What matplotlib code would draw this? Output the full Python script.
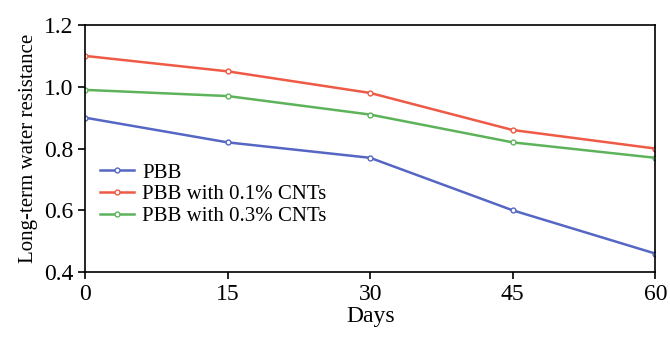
import matplotlib
matplotlib.use('Agg')
import matplotlib.pyplot as plt

plt.rcParams['font.family'] = ['Liberation Serif', 'DejaVu Serif']

days = [0, 15, 30, 45, 60]
pbb = [0.90, 0.82, 0.77, 0.60, 0.46]
pbb_01 = [1.10, 1.05, 0.98, 0.86, 0.80]
pbb_03 = [0.99, 0.97, 0.91, 0.82, 0.77]
labels = ['PBB', 'PBB with 0.1% CNTs', 'PBB with 0.3% CNTs']
colors = ['#5566c4', '#ee5a45', '#5db35a']

fig = plt.figure(figsize=(6.7, 3.38), dpi=100)
ax = fig.add_axes([0.127, 0.195, 0.851, 0.731])

for y, lab, c in zip([pbb, pbb_01, pbb_03], labels, colors):
    ax.plot(days, y, color=c, lw=1.8, marker='o', ms=3.5, mfc='white',
            mec=c, mew=1.0, label=lab)

ax.set_xlim(0, 60)
ax.set_ylim(0.4, 1.2)
ax.set_xticks(days)
ax.set_yticks([0.4, 0.6, 0.8, 1.0, 1.2])
ax.set_yticklabels(['0.4', '0.6', '0.8', '1.0', '1.2'])
ax.tick_params(labelsize=17, direction='out', length=5, width=1.2)
for s in ax.spines.values():
    s.set_linewidth(1.2)
ax.set_xlabel('Days', fontsize=17, labelpad=1)
ax.set_ylabel('Long-term water resistance', fontsize=15, labelpad=4)
ax.legend(loc='upper left', bbox_to_anchor=(0.012, 0.475), frameon=False,
          fontsize=15, handlelength=1.6, handletextpad=0.4, labelspacing=0.1,
          borderaxespad=0)

fig.savefig('out.png', dpi=100)
